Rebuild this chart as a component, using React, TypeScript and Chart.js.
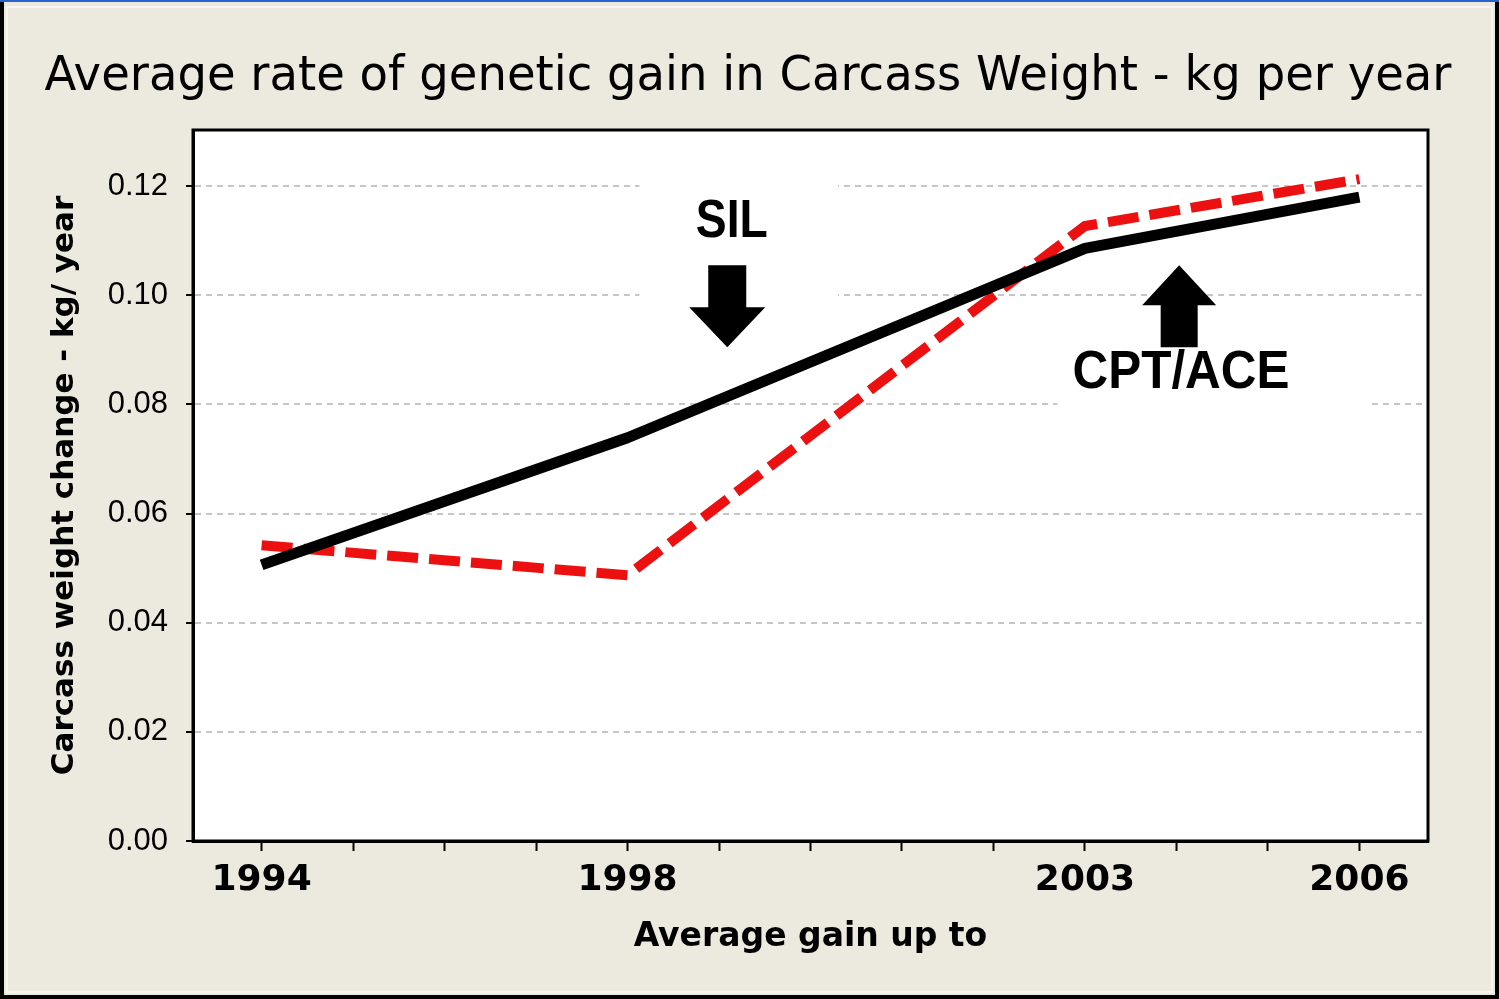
import React, { useEffect, useRef } from 'react';
import { Chart, registerables } from 'chart.js';

Chart.register(...registerables);

// ---- data ----
const years = [1994, 1998, 2003, 2006];
const silValues = [0.0506, 0.0739, 0.1086, 0.118];
const cptAceValues = [0.0542, 0.0487, 0.1127, 0.1213];
const xTickYears = [1994, 1995, 1996, 1997, 1998, 1999, 2000, 2001, 2002, 2003, 2004, 2005, 2006];
const xLabelYears = [1994, 1998, 2003, 2006];
const yTicks = [0, 0.02, 0.04, 0.06, 0.08, 0.1, 0.12];
const chartTitle = 'Average rate of genetic gain in Carcass Weight - kg per year';
const xTitle = 'Average gain up to';
const yTitle = 'Carcass weight change - kg/ year';
const silLabel = 'SIL';
const cptLabel = 'CPT/ACE';

const BG = '#ECE9DF';

function drawFittedText(ctx: CanvasRenderingContext2D, text: string, font: string, cx: number, baseline: number, width: number) {
  ctx.save();
  ctx.font = font;
  const w = ctx.measureText(text).width;
  ctx.translate(cx, baseline);
  ctx.scale(width / w, 1);
  ctx.textAlign = 'center';
  ctx.textBaseline = 'alphabetic';
  ctx.fillStyle = '#000';
  ctx.fillText(text, 0, 0);
  ctx.restore();
}

const framePlugin = {
  id: 'frame',
  beforeDraw(chart: any) {
    const { ctx, chartArea } = chart;
    ctx.save();
    ctx.fillStyle = BG;
    ctx.fillRect(0, 0, chart.width, chart.height);
    ctx.fillStyle = '#fff';
    ctx.fillRect(chartArea.left, chartArea.top, chartArea.right - chartArea.left, chartArea.bottom - chartArea.top);
    ctx.restore();
  },
  afterDraw(chart: any) {
    const { ctx, chartArea } = chart;
    ctx.save();
    ctx.strokeStyle = '#000';
    ctx.lineWidth = 3;
    ctx.strokeRect(chartArea.left, chartArea.top, chartArea.right - chartArea.left, chartArea.bottom - chartArea.top);
    // outer frame
    ctx.strokeStyle = '#F7F5EE';
    ctx.lineWidth = 2;
    ctx.strokeRect(7, 7, chart.width - 14, chart.height - 14);
    ctx.fillStyle = '#000';
    ctx.fillRect(0, 0, 4, chart.height);
    ctx.fillRect(chart.width - 4, 0, 4, chart.height);
    ctx.fillRect(0, chart.height - 4, chart.width, 4);
    ctx.fillStyle = '#2A62C9';
    ctx.fillRect(0, 0, chart.width, 2);
    ctx.restore();
    drawFittedText(ctx, chartTitle, '48px "DejaVu Sans"', 748, 90, 1407);
  },
};

const annotationPlugin = {
  id: 'annotations',
  beforeDatasetsDraw(chart: any) {
    const { ctx } = chart;
    const xs = chart.scales.x;
    const ys = chart.scales.y;
    const px = (v: number) => xs.getPixelForValue(v);
    const py = (v: number) => ys.getPixelForValue(v);
    ctx.save();
    // white label boxes (hide grid lines behind labels)
    ctx.fillStyle = '#fff';
    const box = (x0: number, y0: number, x1: number, y1: number) => {
      const l = px(x0), r = px(x1), t = py(y1), b = py(y0);
      ctx.fillRect(l, t, r - l, b - t);
    };
    box(1998.13, 0.0895, 2000.3, 0.1235);
    box(2002.7, 0.0795, 2006.1, 0.0935);

    // SIL arrow (pointing down)
    ctx.fillStyle = '#000';
    const sx = px(1999.09);
    const sTop = py(0.1055), sBase = py(0.0978), sTip = py(0.0905);
    ctx.beginPath();
    ctx.moveTo(sx - 19, sTop);
    ctx.lineTo(sx + 19, sTop);
    ctx.lineTo(sx + 19, sBase);
    ctx.lineTo(sx + 38, sBase);
    ctx.lineTo(sx, sTip);
    ctx.lineTo(sx - 38, sBase);
    ctx.lineTo(sx - 19, sBase);
    ctx.closePath();
    ctx.fill();

    // CPT/ACE arrow (pointing up)
    const cx = px(2004.03);
    const cTip = py(0.1055), cBase = py(0.0982), cBot = py(0.0905);
    ctx.beginPath();
    ctx.moveTo(cx, cTip);
    ctx.lineTo(cx + 37, cBase);
    ctx.lineTo(cx + 18.5, cBase);
    ctx.lineTo(cx + 18.5, cBot);
    ctx.lineTo(cx - 18.5, cBot);
    ctx.lineTo(cx - 18.5, cBase);
    ctx.lineTo(cx - 37, cBase);
    ctx.closePath();
    ctx.fill();
    ctx.restore();

    drawFittedText(ctx, silLabel, 'bold 54px "Liberation Sans"', px(1999.14), py(0.1107), 72);
    drawFittedText(ctx, cptLabel, 'bold 53px "Liberation Sans"', px(2004.05), py(0.083), 217);
  },
};

export default function App() {
  const canvasRef = useRef<HTMLCanvasElement | null>(null);

  useEffect(() => {
    document.body.style.margin = '0';
    document.body.style.overflow = 'hidden';
    const canvas = canvasRef.current;
    if (!canvas) return;
    const chart = new Chart(canvas, {
      type: 'line',
      data: {
        datasets: [
          {
            label: silLabel,
            data: years.map((x, i) => ({ x, y: silValues[i] })),
            borderColor: '#000',
            borderWidth: 11,
            pointRadius: 0,
            tension: 0,
            fill: false,
            borderCapStyle: 'butt',
            borderJoinStyle: 'round',
          },
          {
            label: cptLabel,
            data: years.map((x, i) => ({ x, y: cptAceValues[i] })),
            borderColor: '#EC1010',
            borderWidth: 10,
            borderDash: [31, 11],
            pointRadius: 0,
            tension: 0,
            fill: false,
            borderCapStyle: 'butt',
          },
        ],
      },
      options: {
        responsive: false,
        animation: false,
        devicePixelRatio: 1,
        layout: { padding: { top: 130, right: 71, left: 0, bottom: 0 } },
        plugins: {
          legend: { display: false },
          tooltip: { enabled: false },
          title: { display: false },
        },
        scales: {
          x: {
            type: 'linear',
            min: 1993.25,
            max: 2006.75,
            afterBuildTicks: (s: any) => {
              s.ticks = xTickYears.map((v) => ({ value: v }));
            },
            afterFit: (s: any) => {
              s.height = 158;
            },
            grid: {
              drawOnChartArea: false,
              drawTicks: true,
              tickLength: 10,
              tickColor: '#000',
              tickWidth: 2,
              tickBorderDash: [],
            },
            border: { display: true, color: '#000', width: 3 },
            ticks: {
              autoSkip: false,
              maxRotation: 0,
              padding: 8,
              color: '#000',
              font: { family: 'DejaVu Sans', weight: 'bold', size: 36 },
              callback: (v: any) => (xLabelYears.includes(Number(v)) ? String(v) : ''),
            },
            title: {
              display: true,
              text: xTitle,
              color: '#000',
              font: { family: 'DejaVu Sans', weight: 'bold', size: 33, lineHeight: 1 },
              padding: { top: 0, bottom: 45 },
            },
          },
          y: {
            type: 'linear',
            min: 0,
            max: 0.1303,
            afterBuildTicks: (s: any) => {
              s.ticks = yTicks.map((v) => ({ value: v }));
            },
            afterFit: (s: any) => {
              s.width = 193;
            },
            grid: {
              color: (c: any) => (c.tick && c.tick.value === 0 ? 'rgba(0,0,0,0)' : '#C6C6C6'),
              lineWidth: 2,
              drawTicks: true,
              tickLength: 7,
              tickColor: '#000',
              tickWidth: 2,
              tickBorderDash: [],
            },
            border: { display: true, color: '#000', width: 3, dash: [6, 5] },
            ticks: {
              padding: 18,
              color: '#000',
              font: { family: 'Liberation Sans', size: 31 },
              callback: (v: any) => Number(v).toFixed(2),
            },
            title: {
              display: true,
              text: yTitle,
              color: '#000',
              font: { family: 'DejaVu Sans', weight: 'bold', size: 31, lineHeight: 1 },
              padding: { top: 49, bottom: 0 },
            },
          },
        },
      },
      plugins: [framePlugin, annotationPlugin],
    } as any);
    return () => chart.destroy();
  }, []);

  return (
    <div style={{ position: 'absolute', left: 0, top: 0, width: 1499, height: 999 }}>
      <canvas ref={canvasRef} width={1499} height={999} style={{ display: 'block' }} />
    </div>
  );
}
